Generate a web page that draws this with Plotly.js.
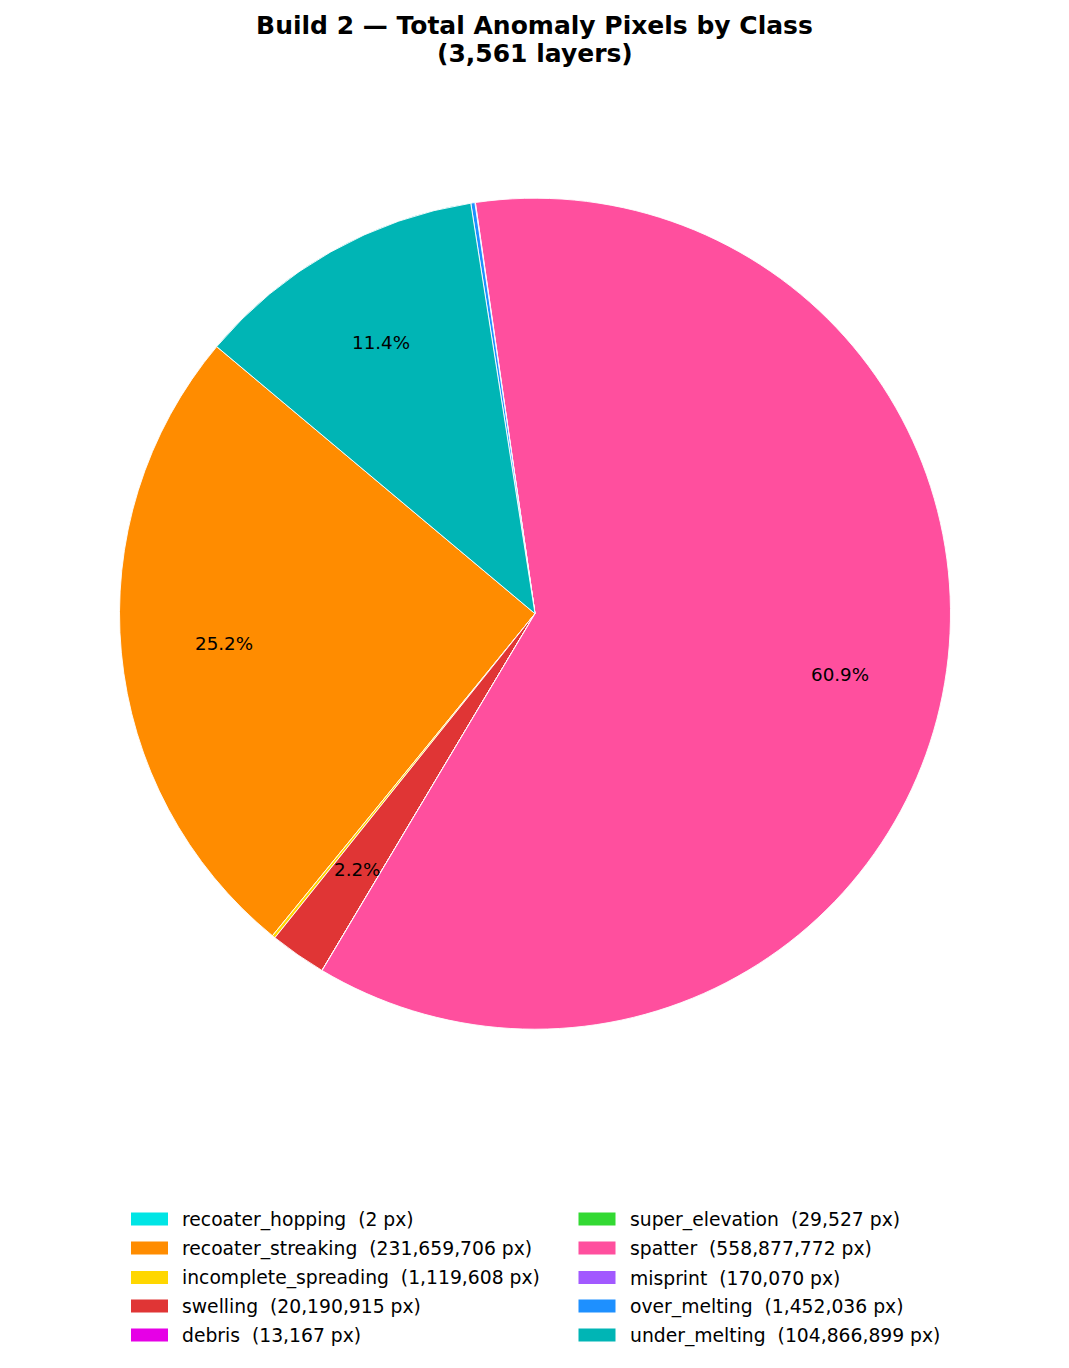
<!DOCTYPE html>
<html><head><meta charset="utf-8">
<script src="https://cdn.plot.ly/plotly-3.0.1.min.js"></script>
<style>html,body{margin:0;padding:0;background:#fff}</style></head>
<body><div id="chart" style="width:1069px;height:1368px"></div>
<script>
const classNames = ['recoater_hopping','recoater_streaking','incomplete_spreading','swelling','debris','super_elevation','spatter','misprint','over_melting','under_melting'];
const pixelCounts = [2,231659706,1119608,20190915,13167,29527,558877772,170070,1452036,104866899];
const sliceColors = ['#00e5e5','#ff8c00','#ffd700','#e03535','#e600e6','#33d933','#ff4f9e','#a259ff','#1e90ff','#00b5b5'];
const titleLine = 'Build 2 — Total Anomaly Pixels by Class';
const subtitleLine = '(3,561 layers)';

const W = 1069, H = 1368;
const cx = 535, cy = 613.7, R = 415.5;
const fontFam = '"DejaVu Sans", sans-serif';
const px = x => x / W, py = y => 1 - y / H;

const total = pixelCounts.reduce((a, b) => a + b, 0);
const annotations = [], shapes = [];

// second title line: reference spacing is tighter than Plotly's <br>
annotations.push({
  xref: 'paper', yref: 'paper', showarrow: false,
  x: px(535), y: py(53.5), xanchor: 'center', yanchor: 'middle',
  text: '<b>' + subtitleLine + '</b>',
  font: {family: fontFam, size: 25, color: '#000'}
});

// percentage labels, placed at 0.75 R on each slice's mid-angle
let start = 140;
pixelCounts.forEach(v => {
  const sweep = v / total * 360;
  const share = v / total * 100;
  if (share >= 1) {
    const a = (start + sweep / 2) * Math.PI / 180;
    annotations.push({
      xref: 'paper', yref: 'paper', showarrow: false,
      x: px(cx - 0.5 + 0.75 * R * Math.cos(a)), y: py(cy - 0.75 * R * Math.sin(a)),
      xanchor: 'center', yanchor: 'middle',
      text: share.toFixed(1) + '%', font: {family: fontFam, size: 18.3, color: '#000'}
    });
  }
  start += sweep;
});

// two-column legend
const rowY = [1219, 1248, 1277.5, 1306, 1335];
const colSwatch = [131, 578.5], colText = [182, 630];
classNames.forEach((n, i) => {
  const c = Math.floor(i / 5), r = i % 5;
  shapes.push({
    type: 'rect', xref: 'paper', yref: 'paper', layer: 'above',
    x0: px(colSwatch[c]), x1: px(colSwatch[c] + 37),
    y0: py(rowY[r] - 6.5), y1: py(rowY[r] + 6.5),
    fillcolor: sliceColors[i], line: {width: 0}
  });
  annotations.push({
    xref: 'paper', yref: 'paper', showarrow: false,
    x: px(colText[c] - 2.5), y: py(rowY[r] + 0.5), xanchor: 'left', yanchor: 'middle',
    text: n + '\u00a0\u00a0(' + pixelCounts[i].toLocaleString('en-US') + ' px)',
    font: {family: fontFam, size: 18.75, color: '#000'}
  });
});

Plotly.newPlot('chart', [{
  type: 'pie', labels: classNames, values: pixelCounts, sort: false,
  direction: 'counterclockwise', rotation: -50,
  marker: {colors: sliceColors, line: {color: '#fff', width: 0.9}},
  textinfo: 'none', showlegend: false,
  domain: {x: [px(cx - R), px(cx + R)], y: [py(cy + R), py(cy - R)]}
}], {
  width: W, height: H, margin: {l: 0, r: 0, t: 0, b: 0},
  paper_bgcolor: '#fff', showlegend: false,
  title: {text: '<b>' + titleLine + '</b>',
    x: 0.5, xanchor: 'center', y: 1 - 25.5 / H, yanchor: 'middle',
    font: {family: fontFam, size: 25, color: '#000'}},
  annotations, shapes
}, {displayModeBar: false});
</script></body></html>
